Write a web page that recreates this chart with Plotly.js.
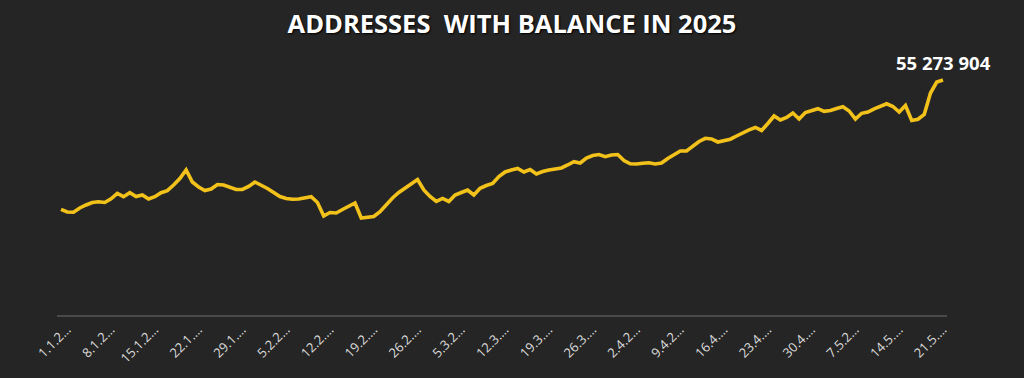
<!DOCTYPE html>
<html>
<head>
<meta charset="utf-8">
<script src="https://cdn.plot.ly/plotly-3.0.1.min.js"></script>
<style>
html,body{margin:0;padding:0;background:#252525;}
#chart{width:1024px;height:378px;}
</style>
</head>
<body>
<div id="chart"></div>
<script>
// Daily values (millions of addresses with balance), 1.1.2025 - 22.5.2025
const addressesMillions = [
53.981,53.954,53.951,53.994,54.024,54.049,54.057,54.049,54.086,54.139,
54.107,54.147,54.109,54.124,54.084,54.107,54.147,54.167,54.224,54.289,
54.374,54.254,54.204,54.169,54.184,54.229,54.224,54.204,54.179,54.179,
54.209,54.254,54.224,54.189,54.149,54.109,54.089,54.081,54.084,54.094,
54.107,54.049,53.914,53.949,53.944,53.979,54.014,54.044,53.894,53.899,
53.909,53.957,54.029,54.094,54.149,54.194,54.239,54.279,54.174,54.109,
54.059,54.089,54.059,54.124,54.149,54.174,54.124,54.191,54.219,54.239,
54.309,54.354,54.374,54.389,54.354,54.379,54.334,54.359,54.374,54.384,
54.394,54.424,54.457,54.444,54.494,54.519,54.529,54.507,54.524,54.529,
54.469,54.436,54.434,54.442,54.447,54.434,54.444,54.489,54.529,54.564,
54.564,54.609,54.659,54.691,54.684,54.654,54.664,54.682,54.714,54.749,
54.776,54.799,54.769,54.839,54.914,54.874,54.899,54.944,54.884,54.949,
54.969,54.987,54.961,54.969,54.989,55.006,54.964,54.884,54.941,54.954,
54.986,55.014,55.036,55.009,54.954,55.019,54.869,54.881,54.929,55.144,
55.254,55.273904
];

const tickLabels = ["1.1.2…","8.1.2…","15.1.2…","22.1.…","29.1.…","5.2.2…","12.2.…",
"19.2.…","26.2.…","5.3.2…","12.3.…","19.3.…","26.3.…","2.4.2…","9.4.2…","16.4.…",
"23.4.…","30.4.…","7.5.2…","14.5.…","21.5.…"];

// category labels: dates d.m.2025
const dates = [];
const start = new Date(Date.UTC(2025,0,1));
for (let i = 0; i < addressesMillions.length; i++) {
  const d = new Date(start.getTime() + i*86400000);
  dates.push(d.getUTCDate() + "." + (d.getUTCMonth()+1) + "." + d.getUTCFullYear());
}
const values = addressesMillions.map(v => Math.round(v*1e6));
const tickVals = tickLabels.map((_, k) => dates[k*7]);

const lastIdx = values.length - 1;
const lastLabel = values[lastIdx].toString().replace(/\B(?=(\d{3})+(?!\d))/g, " ");

const trace = {
  x: dates, y: values, type: "scatter", mode: "lines",
  line: {color: "#F2C21B", width: 3.6},
  hoverinfo: "x+y"
};

const layout = {
  width: 1024, height: 378,
  paper_bgcolor: "#252525", plot_bgcolor: "#252525",
  margin: {l: 57, r: 77, t: 60, b: 63},
  showlegend: false,
  title: {
    text: "ADDRESSES  WITH BALANCE IN 2025",
    font: {family: "Open Sans, sans-serif", size: 25.5, color: "#ffffff", weight: 700,
           shadow: "1px 1px 2px #000"},
    x: 0.5, xanchor: "center", xref: "container",
    y: 1 - 24/378, yanchor: "middle", yref: "container"
  },
  xaxis: {
    type: "category",
    range: [-0.64, lastIdx + 0.64],
    tickmode: "array", tickvals: tickVals, ticktext: tickLabels,
    tickangle: -45,
    ticklabelshift: 6,
    tickfont: {family: "Open Sans, sans-serif", size: 13, color: "#dcdcdc"},
    showgrid: false, zeroline: false,
    showline: true, linecolor: "#4a4a4a", linewidth: 2,
    ticks: "", fixedrange: true
  },
  yaxis: {
    range: [52.923904e6, 55.473904e6],
    showticklabels: false, showgrid: false, zeroline: false, showline: false,
    fixedrange: true
  },
  annotations: [{
    x: dates[lastIdx], y: values[lastIdx], xref: "x", yref: "y",
    text: lastLabel, showarrow: false, yanchor: "bottom", yshift: 3,
    font: {family: "Open Sans, sans-serif", size: 18.5, color: "#ffffff", weight: 700}
  }]
};

Plotly.newPlot("chart", [trace], layout, {displayModeBar: false, staticPlot: true});
</script>
</body>
</html>
